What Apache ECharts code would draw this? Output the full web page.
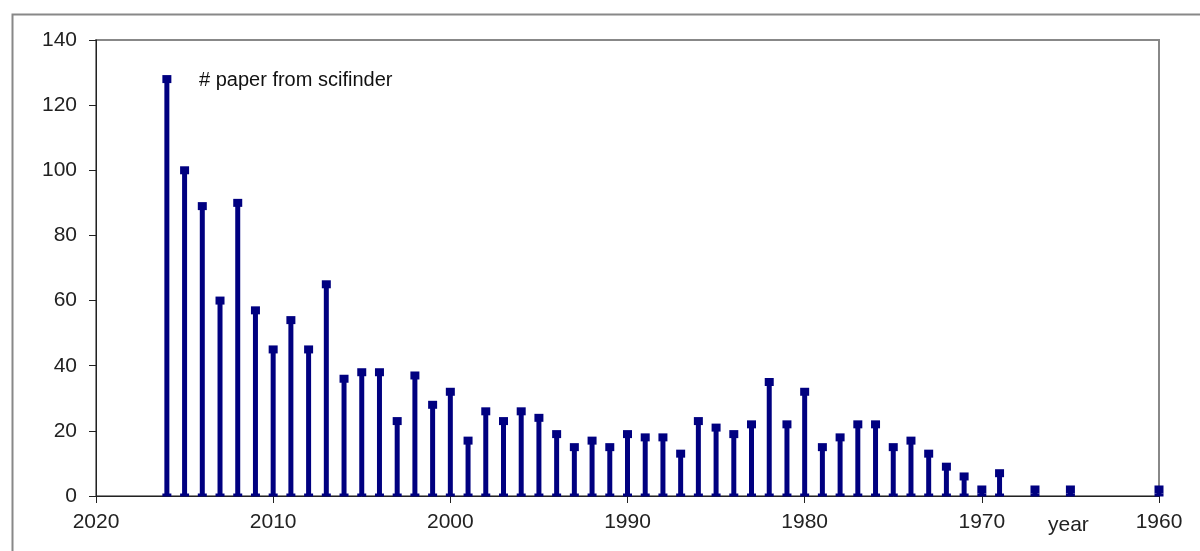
<!DOCTYPE html>
<html>
<head>
<meta charset="utf-8">
<script src="https://cdn.jsdelivr.net/npm/echarts@6/dist/echarts.min.js"></script>
<style>
  html, body { margin: 0; padding: 0; background: #fff; }
  #main { width: 1200px; height: 551px; }
</style>
</head>
<body>
<div id="main"></div>
<script>
// 年份和论文数量 (from scifinder)
var years = [2016, 2015, 2014, 2013, 2012, 2011, 2010, 2009, 2008, 2007,
             2006, 2005, 2004, 2003, 2002, 2001, 2000, 1999, 1998, 1997,
             1996, 1995, 1994, 1993, 1992, 1991, 1990, 1989, 1988, 1987,
             1986, 1985, 1984, 1983, 1982, 1981, 1980, 1979, 1978, 1977,
             1976, 1975, 1974, 1973, 1972, 1971, 1970, 1969, 1967, 1965, 1960]
var papers = [128, 100, 89, 60, 90, 57, 45, 54, 45, 65,
              36, 38, 38, 23, 37, 28, 32, 17, 26, 23,
              26, 24, 19, 15, 17, 15, 19, 18, 18, 13,
              23, 21, 19, 22, 35, 22, 32, 15, 18, 22,
              22, 15, 17, 13, 9, 6, 2, 7, 2, 2, 2]

var x_ticks = [1960, 2020, 10]   // min, max, interval
var y_ticks = [0, 140, 20]

var navy = '#000080'
var font = 'Liberation Sans, Arial, sans-serif'

var bar_data = []
var base_data = []
var i
for (i = 0; i < years.length; i++) {
  bar_data.push([years[i], papers[i]])
  base_data.push([years[i], 0])
}

var chart = echarts.init(document.getElementById('main'))
chart.setOption({
  animation: false,
  backgroundColor: '#fff',
  grid: {
    left: 96, right: 41, top: 40, bottom: 55,
    show: true, borderColor: '#888', borderWidth: 2
  },
  graphic: [
    // 外框
    {
      type: 'rect', left: 10, top: 12, z: -10,
      shape: { width: 1200, height: 600 },
      style: { fill: 'none', stroke: '#888', lineWidth: 2 }
    },
    {
      type: 'text', left: 199, top: 70,
      style: { text: '# paper from scifinder', font: '20px ' + font, fill: '#111' }
    },
    {
      type: 'text', left: 1048, top: 515,
      style: { text: 'year', font: '21px ' + font, fill: '#222' }
    }
  ],
  xAxis: {
    type: 'value',
    inverse: true,
    min: x_ticks[0], max: x_ticks[1], interval: x_ticks[2],
    axisLine: { lineStyle: { color: '#222', width: 1 } },
    axisTick: { show: true, length: 7, lineStyle: { color: '#222' } },
    axisLabel: {
      color: '#222', fontSize: 21, fontFamily: font, margin: 16,
      formatter: function (v) { return String(v) }
    },
    splitLine: { show: false }
  },
  yAxis: {
    type: 'value',
    min: y_ticks[0], max: y_ticks[1], interval: y_ticks[2],
    axisLine: { show: true, lineStyle: { color: '#222', width: 1 } },
    axisTick: { show: true, length: 7, lineStyle: { color: '#222' } },
    axisLabel: { color: '#222', fontSize: 21, fontFamily: font, margin: 19 },
    splitLine: { show: false }
  },
  series: [
    {
      type: 'bar',
      data: bar_data,
      barWidth: 5,
      itemStyle: { color: navy },
      z: 2
    },
    {
      type: 'scatter',
      data: bar_data,
      symbol: 'rect',
      symbolSize: [9, 8],
      itemStyle: { color: navy, opacity: 1 },
      z: 3
    },
    {
      type: 'scatter',
      data: base_data,
      symbol: 'rect',
      symbolSize: [9, 3],
      symbolOffset: [0, -1],
      itemStyle: { color: navy, opacity: 1 },
      z: 3
    }
  ]
})
</script>
</body>
</html>
